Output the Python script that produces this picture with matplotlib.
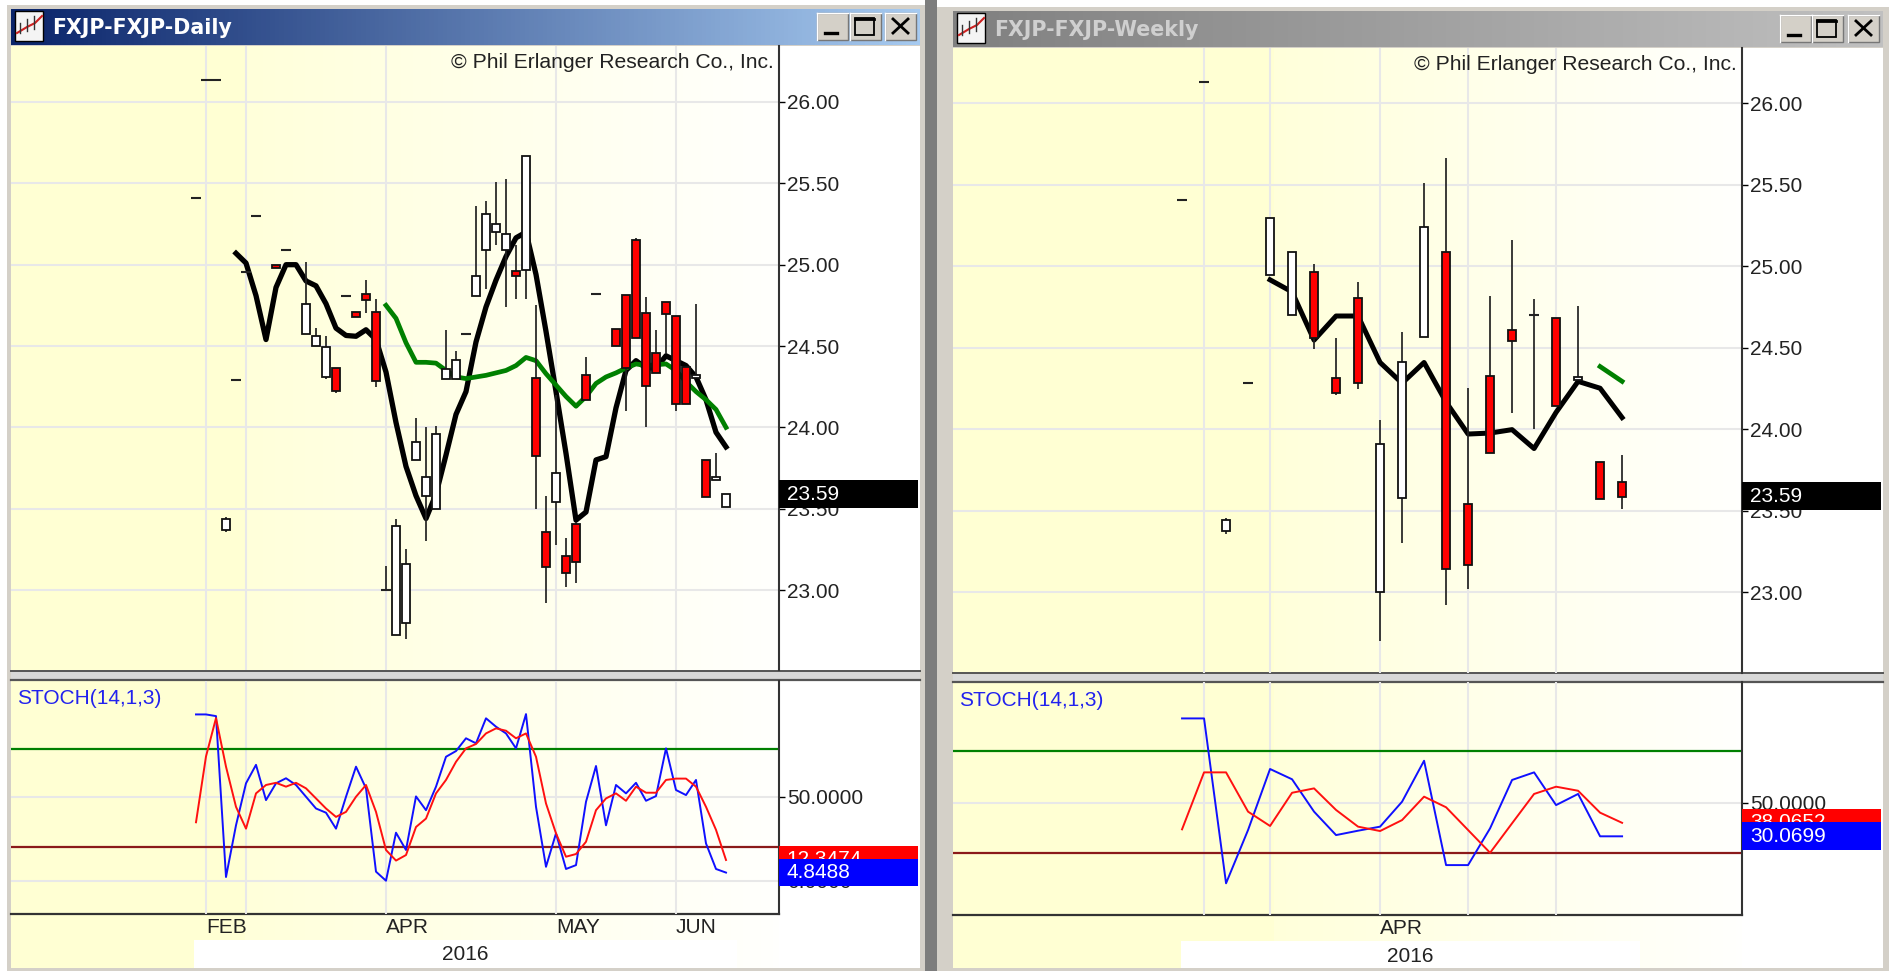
import numpy as np
import matplotlib
matplotlib.use('Agg')
import matplotlib.pyplot as plt
from matplotlib.patches import Rectangle

plt.rcParams['font.family'] = ['Liberation Sans', 'DejaVu Sans']

W, H = 1889, 971

# daily candles
d_idx = [0, 1, 2, 3, 4, 5, 6, 8, 9, 11, 12, 13, 14, 15, 16, 17, 18, 19, 20, 21, 22, 23, 24, 25, 26, 27,
         28, 29, 30, 31, 32, 33, 34, 35, 36, 37, 38, 39, 40, 42, 43, 44, 45, 46, 47, 48, 49, 50, 51, 52, 53]
d_open = [25.41, 26.135, 26.135, 23.37, 24.29, 24.955, 25.30, 25.0, 25.09, 24.573, 24.50, 24.31, 24.363, 24.81,
          24.707, 24.82, 24.707, 23.0, 22.724, 22.80, 23.80, 23.578, 23.50, 24.30, 24.30, 24.575,
          24.806, 25.09, 25.20, 25.09, 24.964, 24.97, 24.304, 23.355, 23.542, 23.208, 23.404, 24.325, 24.82,
          24.607, 24.816, 25.15, 24.706, 24.459, 24.77, 24.685, 24.374, 24.304, 23.80, 23.676, 23.513]
d_close = [25.41, 26.135, 26.135, 23.44, 24.29, 24.955, 25.30, 24.98, 25.09, 24.757, 24.56, 24.496, 24.224, 24.81,
           24.68, 24.78, 24.287, 23.0, 23.394, 23.159, 23.908, 23.697, 23.958, 24.36, 24.414, 24.575,
           24.93, 25.309, 25.25, 25.19, 24.93, 25.67, 23.822, 23.145, 23.72, 23.108, 23.17, 24.167, 24.82,
           24.498, 24.367, 24.548, 24.255, 24.336, 24.696, 24.141, 24.141, 24.325, 23.574, 23.697, 23.589]
d_high = [25.41, 26.135, 26.135, 23.45, 24.29, 24.955, 25.30, 25.0, 25.09, 25.018, 24.61, 24.56, 24.363, 24.81,
          24.707, 24.906, 24.787, 23.15, 23.435, 23.25, 24.06, 24.0, 24.009, 24.60, 24.467, 24.575,
          25.362, 25.39, 25.51, 25.525, 25.119, 25.67, 24.75, 23.58, 24.2, 23.32, 23.42, 24.43, 24.82,
          24.607, 24.816, 25.165, 24.80, 24.60, 24.77, 24.685, 24.374, 24.759, 23.80, 23.84, 23.589]
d_low = [25.41, 26.135, 26.135, 23.36, 24.29, 24.955, 25.30, 24.98, 25.09, 24.573, 24.50, 24.295, 24.21, 24.81,
         24.68, 24.705, 24.25, 23.0, 22.724, 22.698, 23.80, 23.304, 23.50, 24.30, 24.30, 24.575,
         24.806, 24.85, 25.119, 24.738, 24.79, 24.79, 23.50, 22.92, 23.277, 23.02, 23.045, 24.167, 24.82,
         24.498, 24.103, 24.548, 24.0, 24.336, 24.45, 24.103, 24.141, 24.304, 23.574, 23.676, 23.513]

# daily moving averages, first bar 4 and bar 19
d_ma_black = [25.07, 25.01, 24.81, 24.54, 24.86, 25.00, 25.00, 24.90, 24.87, 24.76, 24.61, 24.565, 24.56, 24.60,
              24.54, 24.34, 24.03, 23.76, 23.58, 23.44, 23.59, 23.83, 24.08, 24.22, 24.525, 24.74, 24.905,
              25.05, 25.165, 25.20, 24.94, 24.59, 24.22, 23.84, 23.43, 23.48, 23.80, 23.82, 24.12, 24.35,
              24.41, 24.365, 24.365, 24.44, 24.41, 24.38, 24.31, 24.17, 23.97, 23.88]
d_ma_green = [24.75, 24.67, 24.52, 24.40, 24.40, 24.395, 24.35, 24.31, 24.30, 24.31, 24.32, 24.335, 24.35, 24.38,
              24.43, 24.41, 24.33, 24.26, 24.19, 24.13, 24.19, 24.27, 24.31, 24.335, 24.365, 24.39, 24.38,
              24.385, 24.39, 24.35, 24.28, 24.22, 24.17, 24.11, 24.00]

# daily stochastics, one value per bar from bar 0
d_stoch_blue = [99, 99, 98, 2.2, 33, 58, 69, 48, 58, 61, 57, 50, 43, 40.5, 31, 50, 67.9, 55, 5.4, 0, 28.6, 18.3,
                50.2, 42, 56, 73.8, 77.2, 84.8, 81.8, 96.7, 91.7, 87.7, 78.8, 99.2, 44, 8.3, 28.2, 7, 9.3, 47,
                68.3, 33, 57, 52, 58.3, 47.6, 50.4, 78.8, 54, 51, 60, 22.2, 7, 4.85]
d_stoch_red = [34.8, 74, 96.8, 67.9, 44, 31, 52, 57, 58.3, 56, 58.3, 55, 49, 43, 38, 41, 50, 57, 41, 18.3, 12, 15.3,
               32, 37, 52, 60, 70.8, 78.8, 81.4, 87.7, 90.7, 89.3, 84.8, 87.7, 73.8, 46, 28.2, 14.3, 15.9, 23.2,
               42, 49, 52, 47.6, 56, 52.4, 52.4, 60, 60.8, 60.8, 56, 44, 30.3, 12.35]

# weekly candles
w_idx = list(range(21))
w_open = [25.407, 26.133, 23.375, 24.287, 24.949, 24.704, 24.966, 24.315, 24.805, 22.999, 23.576, 24.568,
          25.088, 23.54, 24.325, 24.611, 24.70, 24.68, 24.304, 23.797, 23.677]
w_close = [25.407, 26.133, 23.442, 24.287, 25.295, 25.088, 24.558, 24.22, 24.287, 23.907, 24.41, 25.244,
           23.145, 23.17, 23.857, 24.543, 24.70, 24.142, 24.323, 23.575, 23.586]
w_high = [25.407, 26.133, 23.459, 24.287, 25.295, 25.088, 25.016, 24.562, 24.906, 24.057, 24.596, 25.509,
          25.667, 24.256, 24.818, 25.16, 24.797, 24.68, 24.759, 23.797, 23.84]
w_low = [25.407, 26.133, 23.36, 24.287, 24.949, 24.704, 24.494, 24.21, 24.247, 22.699, 23.305, 24.568,
         22.925, 23.02, 23.857, 24.10, 24.0, 24.142, 24.304, 23.575, 23.512]

# weekly moving averages, first bar 4 and bar 19
w_ma_black = [24.917, 24.843, 24.547, 24.695, 24.695, 24.41, 24.283, 24.41, 24.167, 23.971, 23.977, 23.998,
              23.882, 24.104, 24.294, 24.252, 24.072]
w_ma_green = [24.385, 24.294]

w_stoch_blue = [100, 100, 2.2, 33.8, 70, 63.9, 44.7, 30.8, 33.4, 35.8, 50.6, 74.9, 13, 13, 34.8, 63.5, 68, 48.6,
                55.2, 30.07, 30.07]
w_stoch_red = [34.2, 68, 68, 44.7, 36.2, 55.9, 58.5, 45.7, 35.8, 33.2, 39.7, 53.6, 47.3, 33.8, 20.3, 37.8, 55.2,
               59.5, 57.1, 44.1, 38.07]

price_ticks = [23.0, 23.5, 24.0, 24.5, 25.0, 25.5, 26.0]
d_months = [1, 5, 19, 36, 48]
d_month_labels = ['FEB', '', 'APR', 'MAY', 'JUN']
w_months = [1, 4, 9, 13, 17]
w_month_labels = ['', '', 'APR', '', '']

GRID = '#e8e8e8'
FRAME = '#d4d0c8'


def px_ax(fig, x0, y0, x1, y1):
    ax = fig.add_axes([x0 / W, 1 - y1 / H, (x1 - x0) / W, (y1 - y0) / H])
    ax.patch.set_visible(False)
    return ax


def draw_candles(ax, idx, o, c, hi, lo, body, dash):
    for i, op, cl, h, l in zip(idx, o, c, hi, lo):
        if h > l:
            ax.vlines(i, l, h, color='#222222', lw=1.25, zorder=3)
        if op == cl:
            ax.hlines(op, i - dash / 2, i + dash / 2, color='#222222', lw=1.5, zorder=4)
        else:
            color = 'red' if cl < op else 'white'
            ax.bar(i, abs(cl - op), bottom=min(op, cl), width=body, color=color,
                   edgecolor='#111111', lw=1.3, zorder=4)


def tag(ax, value, text, bg, height, width, txt_x, order=6, fg='white', size=15):
    tr = ax.get_yaxis_transform()
    ax.add_patch(Rectangle((1, value - height / 2), width, height, transform=tr, color=bg,
                           clip_on=False, zorder=order, lw=0))
    ax.text(txt_x, value, text, transform=tr, color=fg, fontsize=size, va='center', ha='left',
            clip_on=False, zorder=order + 0.5)


def style_axis(ax, xt, size=15):
    ax.set_axisbelow(True)
    ax.grid(True, color=GRID, lw=1.5)
    for s in ['top', 'left', 'bottom']:
        ax.spines[s].set_visible(False)
    ax.spines['right'].set_color('#333333')
    ax.spines['right'].set_linewidth(1.5)
    ax.yaxis.tick_right()
    ax.tick_params(axis='y', length=4, width=1, pad=2, labelsize=size, labelcolor='#222222')
    ax.set_xticks(xt)
    ax.tick_params(axis='x', length=0)


fig = plt.figure(figsize=(W / 100, H / 100), dpi=100, facecolor='white')
bg = fig.add_axes([0, 0, 1, 1])
bg.set_xlim(0, W)
bg.set_ylim(H, 0)
bg.axis('off')

windows = [
    dict(x0=11, x1=920, ax_x=779, top=9, bar=46, sep=671, sep2=680, low=914, step=246,
         title='FXJP-FXJP-Daily', c0=(10, 36, 106), c1=(166, 202, 240), tcol='white',
         btn=[817, 850, 885], btn_w=31, btn_y=13, strip=(194, 737), year=465, year_y=954, copy_y=62),
    dict(x0=953, x1=1883, ax_x=1742, top=11, bar=48, sep=673, sep2=682, low=915, step=1270,
         title='FXJP-FXJP-Weekly', c0=(128, 128, 128), c1=(192, 192, 192), tcol='#cfcfcf',
         btn=[1780, 1812, 1848], btn_w=31, btn_y=15, strip=(1181, 1640), year=1410, year_y=956, copy_y=64),
]

# gray gap between the two child windows and window frames
bg.add_patch(Rectangle((925, 0), 12, H, color='#7d7d7d', lw=0, zorder=1))
bg.add_patch(Rectangle((7, 5), 918, H, color=FRAME, lw=0, zorder=0))
bg.add_patch(Rectangle((937, 7), 952, H, color=FRAME, lw=0, zorder=0))

for w in windows:
    # plot background, yellow fading out to the right
    bg.add_patch(Rectangle((w['x0'], w['bar']), w['x1'] - w['x0'], H - 3 - w['bar'], color='white', lw=0, zorder=1))
    shade = np.full((1, 128, 3), 255, dtype=np.uint8)
    xs = np.linspace(w['x0'], w['ax_x'], 128)
    shade[0, :, 2] = np.where(xs < w['step'], 211, np.interp(xs, [w['step'], w['ax_x']], [218, 253])).astype(np.uint8)
    bg.imshow(shade, extent=[w['x0'], w['ax_x'], H - 3, w['bar']], aspect='auto', zorder=1.1,
              interpolation='nearest')
    # title bar
    grad = np.zeros((1, 200, 3), dtype=np.uint8)
    for k in range(3):
        grad[0, :, k] = np.linspace(w['c0'][k], w['c1'][k], 200).astype(np.uint8)
    bg.imshow(grad, extent=[w['x0'], w['x1'], w['bar'] - 1, w['top']], aspect='auto', zorder=1.2)
    bg.text(w['x0'] + 41, (w['top'] + w['bar']) / 2, w['title'], color=w['tcol'], fontsize=14.8,
            fontweight='bold', va='center', ha='left', zorder=3, family='DejaVu Sans')
    # icon
    ix, iy = w['x0'] + 4, w['top'] + 2
    bg.add_patch(Rectangle((ix, iy), 28, 30, facecolor='#f4f4f4', edgecolor='black', lw=1, zorder=3))
    bg.plot([ix + 2, ix + 12, ix + 20, ix + 27], [iy + 22, iy + 16, iy + 12, iy + 5], color='#cc2020', lw=1.5, zorder=4)
    bg.plot([ix + 5, ix + 5], [iy + 12, iy + 22], color='#333333', lw=1, zorder=4)
    bg.plot([ix + 12, ix + 12], [iy + 8, iy + 20], color='#333333', lw=1, zorder=4)
    bg.plot([ix + 19, ix + 19], [iy + 5, iy + 18], color='#333333', lw=1, zorder=4)
    # buttons
    for bx, kind in zip(w['btn'], ['min', 'max', 'close']):
        by = w['btn_y']
        bg.add_patch(Rectangle((bx, by), w['btn_w'], 27, facecolor=FRAME, edgecolor='#777777', lw=1, zorder=3))
        bg.plot([bx, bx + w['btn_w'], ], [by, by], color='white', lw=1, zorder=4)
        bg.plot([bx, bx], [by, by + 27], color='white', lw=1, zorder=4)
        if kind == 'min':
            bg.plot([bx + 8, bx + 20], [by + 20, by + 20], color='black', lw=2.4, zorder=4)
        elif kind == 'max':
            bg.add_patch(Rectangle((bx + 5, by + 5), 19, 17, facecolor='none', edgecolor='black', lw=1.3, zorder=4))
            bg.plot([bx + 5, bx + 24], [by + 6, by + 6], color='black', lw=2, zorder=4)
        else:
            bg.plot([bx + 8, bx + 23], [by + 6, by + 20], color='black', lw=2, zorder=4)
            bg.plot([bx + 23, bx + 8], [by + 6, by + 20], color='black', lw=2, zorder=4)
    # splitter between price and stochastic panes
    bg.add_patch(Rectangle((w['x0'], w['sep']), w['x1'] - w['x0'], w['sep2'] - w['sep'], color='#d8d8d8', lw=0, zorder=2))
    bg.plot([w['x0'], w['x1']], [w['sep'], w['sep']], color='#555555', lw=1.4, zorder=2.5)
    bg.plot([w['x0'], w['x1']], [w['sep2'], w['sep2']], color='#555555', lw=1.6, zorder=2.5)
    bg.plot([w['x0'], w['ax_x']], [w['low'], w['low']], color='#333333', lw=1.6, zorder=2.5)
    # year strip
    bg.add_patch(Rectangle((w['strip'][0], w['low'] + 26), w['strip'][1] - w['strip'][0], H - 3 - w['low'] - 26,
                           color='white', lw=0, zorder=2))
    bg.text(w['year'], w['year_y'], '2016', fontsize=15, color='#222222', ha='center', va='center', zorder=3)
    # figure level so the gridlines pass behind them
    fig.text((w['ax_x'] - 5) / W, 1 - w['copy_y'] / H, '\u00a9 Phil Erlanger Research Co., Inc.', fontsize=15.2,
             color='#222222', ha='right', va='center', zorder=5)
    fig.text((w['x0'] + 6) / W, 1 - (w['sep2'] + 18) / H, 'STOCH(14,1,3)', fontsize=15, color='#2222ee',
             ha='left', va='center', zorder=5)

bg.set_xlim(0, W)
bg.set_ylim(H, 0)

# daily price pane
p1 = px_ax(fig, 11, 46, 779, 670)
p1.set_xlim(-18.5, 58.3)
p1.set_ylim(22.509, 26.344)
style_axis(p1, d_months)
p1.set_xticklabels([])
p1.set_yticks(price_ticks)
p1.set_yticklabels(['%.2f' % v for v in price_ticks])
p1.plot(range(4, 4 + len(d_ma_black)), d_ma_black, color='black', lw=3.8, zorder=2.6, solid_joinstyle='round')
p1.plot(range(19, 19 + len(d_ma_green)), d_ma_green, color='#008000', lw=3.4, zorder=2.7, solid_joinstyle='round')
draw_candles(p1, d_idx, d_open, d_close, d_high, d_low, 0.8, 1.0)
tag(p1, 23.59, '23.59', 'black', 0.17, 0.181, 1.01)

# daily stochastic pane
s1 = px_ax(fig, 11, 681, 779, 914)
s1.set_xlim(-18.5, 58.3)
s1.set_ylim(-19.8, 118.9)
style_axis(s1, d_months)
s1.set_xticklabels(d_month_labels, ha='left', fontsize=15, color='#222222')
s1.tick_params(axis='x', pad=3)
s1.set_yticks([0, 50])
s1.set_yticklabels(['0.0000', '50.0000'])
s1.axhline(78.5, color='#008000', lw=1.6, zorder=2)
s1.axhline(20.2, color='#8b1a1a', lw=1.6, zorder=2)
s1.plot(range(len(d_stoch_blue)), d_stoch_blue, color='#1010ff', lw=1.4, zorder=3)
s1.plot(range(len(d_stoch_red)), d_stoch_red, color='#ff1010', lw=1.4, zorder=3.1)
tag(s1, 12.35, '12.3474', '#ff0000', 16.5, 0.181, 1.01, order=6)
tag(s1, 4.85, '4.8488', '#0000ff', 16.5, 0.181, 1.01, order=7)

# weekly price pane
p2 = px_ax(fig, 953, 48, 1742, 672.7)
p2.set_xlim(-10.41, 25.45)
p2.set_ylim(22.507, 26.339)
style_axis(p2, w_months)
p2.set_xticklabels([])
p2.set_yticks(price_ticks)
p2.set_yticklabels(['%.2f' % v for v in price_ticks])
p2.plot(range(4, 4 + len(w_ma_black)), w_ma_black, color='black', lw=3.6, zorder=2.6, solid_joinstyle='round')
p2.plot(range(19, 19 + len(w_ma_green)), w_ma_green, color='#008000', lw=3.4, zorder=2.7, solid_joinstyle='round')
draw_candles(p2, w_idx, w_open, w_close, w_high, w_low, 0.37, 0.45)
tag(p2, 23.59, '23.59', 'black', 0.17, 0.176, 1.01)

# weekly stochastic pane
s2 = px_ax(fig, 953, 682, 1742, 915)
s2.set_xlim(-10.41, 25.45)
s2.set_ylim(-16.6, 121.6)
style_axis(s2, w_months)
s2.set_xticklabels(w_month_labels, ha='left', fontsize=15, color='#222222')
s2.tick_params(axis='x', pad=3)
s2.set_yticks([50])
s2.set_yticklabels(['50.0000'])
s2.axhline(80.8, color='#008000', lw=1.6, zorder=2)
s2.axhline(20.3, color='#8b1a1a', lw=1.6, zorder=2)
s2.plot(range(len(w_stoch_blue)), w_stoch_blue, color='#1010ff', lw=1.4, zorder=3)
s2.plot(range(len(w_stoch_red)), w_stoch_red, color='#ff1010', lw=1.4, zorder=3.1)
tag(s2, 38.07, '38.0652', '#ff0000', 16.5, 0.176, 1.01, order=6)
tag(s2, 30.07, '30.0699', '#0000ff', 16.5, 0.176, 1.01, order=7)

fig.savefig('out.png', dpi=100)
